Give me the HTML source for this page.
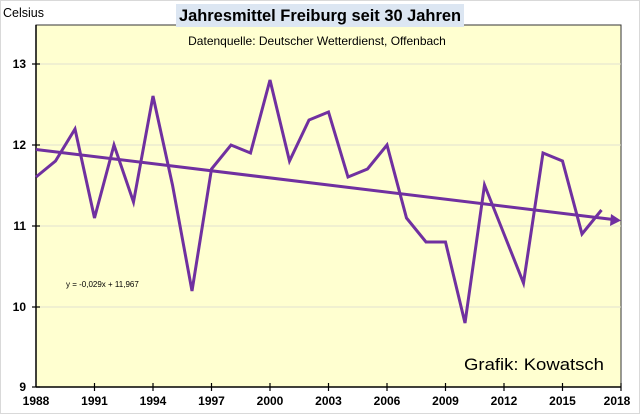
<!DOCTYPE html>
<html><head><meta charset="utf-8"><style>
html,body{margin:0;padding:0;background:#fff}
svg{display:block;font-family:"Liberation Sans",sans-serif}
</style></head><body>
<svg width="640" height="414" viewBox="0 0 640 414">
<rect x="0.5" y="0.5" width="639" height="413" fill="#fff" stroke="#d9d9d9"/>
<rect x="36" y="25" width="585" height="362" fill="#ffffd0" stroke="#333" stroke-width="1"/>
<g stroke="#e0e0d0" stroke-width="1">
<line x1="36" x2="621" y1="64" y2="64"/><line x1="36" x2="621" y1="145" y2="145"/>
<line x1="36" x2="621" y1="226" y2="226"/><line x1="36" x2="621" y1="307" y2="307"/>
</g>
<line x1="36" x2="621" y1="387" y2="387" stroke="#000" stroke-width="1.5"/>
<line x1="36" x2="36" y1="25" y2="387" stroke="#000" stroke-width="1.5"/>
<g stroke="#000" stroke-width="1.2">
<line x1="32" x2="40" y1="64" y2="64"/><line x1="32" x2="40" y1="145" y2="145"/>
<line x1="32" x2="40" y1="226" y2="226"/><line x1="32" x2="40" y1="307" y2="307"/><line x1="32" x2="40" y1="387" y2="387"/>
<line x1="94.5" x2="94.5" y1="383" y2="391"/><line x1="153" x2="153" y1="383" y2="391"/><line x1="211.5" x2="211.5" y1="383" y2="391"/>
<line x1="270" x2="270" y1="383" y2="391"/><line x1="328.5" x2="328.5" y1="383" y2="391"/><line x1="387" x2="387" y1="383" y2="391"/>
<line x1="445.5" x2="445.5" y1="383" y2="391"/><line x1="504" x2="504" y1="383" y2="391"/><line x1="562.5" x2="562.5" y1="383" y2="391"/>
<line x1="621" x2="621" y1="383" y2="391"/>
</g>
<g font-size="12" font-weight="bold" text-anchor="end" fill="#000">
<text x="26" y="68">13</text><text x="26" y="149">12</text><text x="26" y="230">11</text><text x="26" y="311">10</text><text x="26" y="391">9</text>
</g>
<g font-size="12" font-weight="bold" text-anchor="middle" fill="#000">
<text x="36" y="405">1988</text><text x="94.5" y="405">1991</text><text x="153" y="405">1994</text><text x="211.5" y="405">1997</text>
<text x="270" y="405">2000</text><text x="328.5" y="405">2003</text><text x="387" y="405">2006</text><text x="445.5" y="405">2009</text>
<text x="504" y="405">2012</text><text x="562.5" y="405">2015</text><text x="617" y="405">2018</text>
</g>
<polyline fill="none" stroke="#7030a0" stroke-width="3" stroke-linejoin="miter" points="36,177 55.5,161 75,129 94.5,218 114,145 133.5,202 153,96 172.5,185 192,291 211.5,169 231,145 250.5,153 270,80 289.5,161 309,120 328.5,112 348,177 367.5,169 387,145 406.5,218 426,242 445.5,242 465,323 484.5,185 504,234 523.5,283 543,153 562.5,161 582,234 601.5,210"/>
<line x1="36" y1="149.5" x2="613" y2="219.5" stroke="#7030a0" stroke-width="3"/>
<polygon points="621,220.5 611,214 610,226" fill="#7030a0"/>
<text x="66" y="287" font-size="8" fill="#000">y = -0,029x + 11,967</text>
<text x="3" y="17" font-size="12.5" fill="#000">Celsius</text>
<rect x="176" y="4" width="288" height="23" fill="#dce6f2"/>
<text x="179" y="21" font-size="17" font-weight="bold" fill="#000" textLength="282" lengthAdjust="spacingAndGlyphs">Jahresmittel Freiburg seit 30 Jahren</text>
<text x="317" y="45" font-size="12" text-anchor="middle" fill="#000">Datenquelle: Deutscher Wetterdienst, Offenbach</text>
<text x="604" y="370" font-size="17" text-anchor="end" fill="#000" textLength="140" lengthAdjust="spacingAndGlyphs">Grafik: Kowatsch</text>
</svg>
</body></html>
